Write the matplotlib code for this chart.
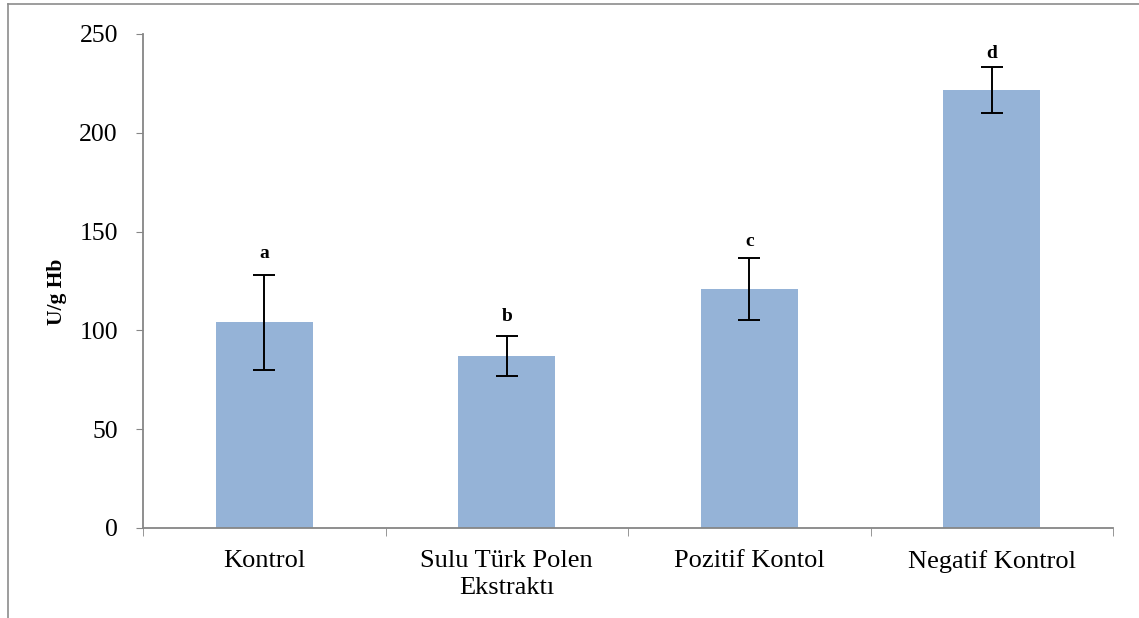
import numpy as np
import matplotlib.pyplot as plt
from matplotlib.lines import Line2D

categories = ['Kontrol', 'Sulu Türk Polen\nEkstraktı', 'Pozitif Kontol', 'Negatif Kontrol']
values = [104, 87, 121, 221.5]
errors = [24, 10, 15.5, 11.7]
letters = ['a', 'b', 'c', 'd']
letter_y = [139, 107, 145, 240]

plt.rcParams['font.family'] = ['Liberation Serif', 'DejaVu Serif']

fig = plt.figure(figsize=(11.39, 6.18), dpi=100)
ax = fig.add_axes([143 / 1139, 1 - 528 / 618, (1113 - 143) / 1139, (528 - 34) / 618])

x = np.arange(len(categories))
ax.bar(x, values, width=0.4, color='#95b3d7', zorder=2)
ax.errorbar(x, values, yerr=errors, fmt='none', ecolor='black',
            elinewidth=1.4, capsize=8, capthick=1.4, zorder=3)
for xi, lt, ly in zip(x, letters, letter_y):
    ax.text(xi, ly, lt, ha='center', va='center', fontsize=14, fontweight='bold')

ax.set_xlim(-0.5, len(categories) - 0.5)
ax.set_ylim(0, 250)
ax.set_yticks(np.arange(0, 251, 50))
ax.tick_params(axis='y', labelsize=18.5, length=5, color='#868686', pad=13)

# category labels centered, tick marks at category boundaries
ax.set_xticks(x)
ax.set_xticklabels(categories, fontsize=19, linespacing=1.3)
ax.tick_params(axis='x', which='major', length=0, pad=16)
ax.set_xticks(np.arange(-0.5, len(categories)), minor=True)
ax.tick_params(axis='x', which='minor', length=6, color='#868686')

for s in ['top', 'right']:
    ax.spines[s].set_visible(False)
for s in ['left', 'bottom']:
    ax.spines[s].set_color('#868686')
    ax.spines[s].set_linewidth(1.3)

ax.set_ylabel('U/g Hb', fontsize=15.5, fontweight='bold')
ax.yaxis.set_label_coords(-0.078, 0.478)

# figure border lines
fig.add_artist(Line2D([8 / 1139, 1], [1 - 4 / 618, 1 - 4 / 618], color='#8c8c8c', lw=1.2))
fig.add_artist(Line2D([8 / 1139, 8 / 1139], [0, 1 - 4 / 618], color='#8c8c8c', lw=1.2))

fig.savefig('out.png', dpi=100)
